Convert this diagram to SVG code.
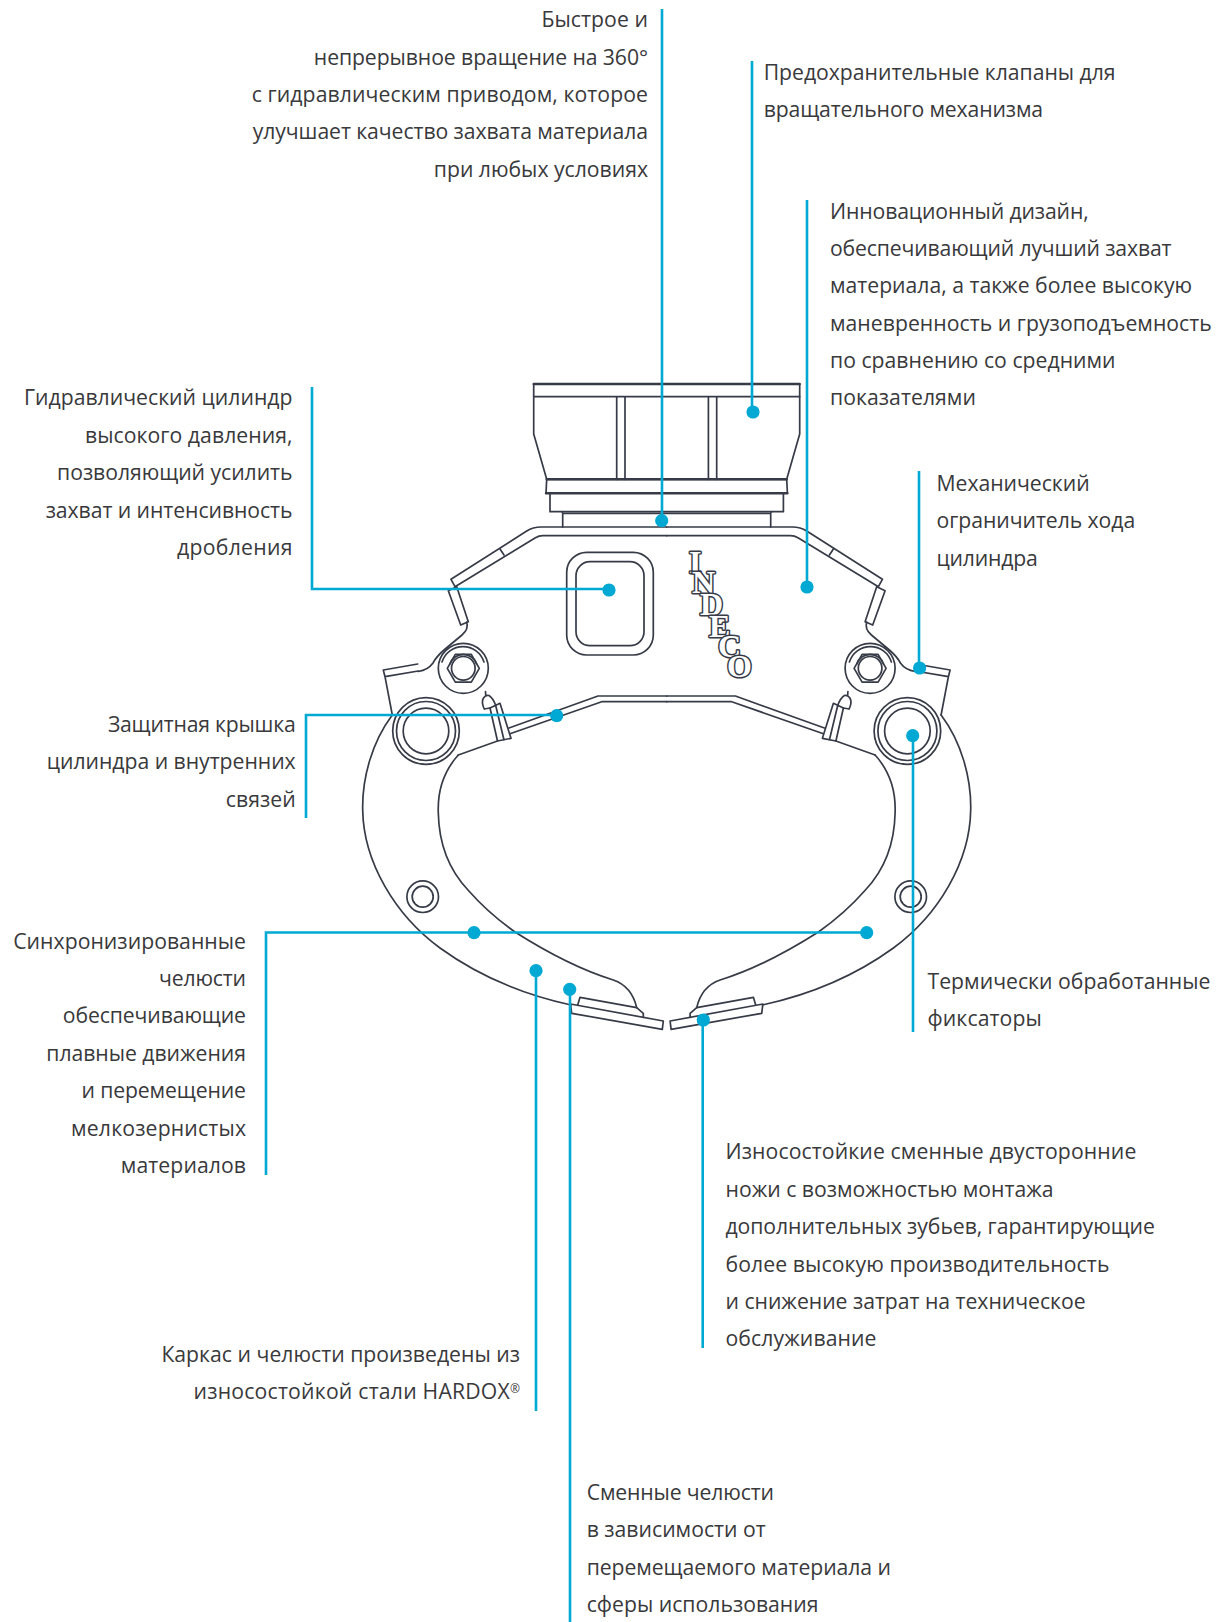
<svg xmlns="http://www.w3.org/2000/svg" xmlns:xlink="http://www.w3.org/1999/xlink" width="1220" height="1622" viewBox="0 0 1220 1622">
<style>
.m{fill:none;stroke:#363b47;stroke-width:1.7;stroke-linejoin:round;stroke-linecap:round}
.h{stroke-width:2.4}
.t{font-family:"Open Sans","Noto Sans",sans-serif;font-size:21.2px;fill:#39393b}
.r{text-anchor:end}
.c{fill:none;stroke:#00a9d4;stroke-width:2.6}
.d{fill:#00a9d4}
.logo{font-family:"Liberation Serif",serif;font-weight:bold;font-size:32px;fill:#fff;stroke:#363b47;stroke-width:3;paint-order:stroke;stroke-linejoin:round}
</style>
<defs>
<g id="half">
<path class="m" d="M666.7,527H541Q533,527 526.7,531L451,579.3L455,586.7L535,538Q539,535.7 543,535.7H666.7"/>
<path class="m" d="M500,549L504,555"/>
<path class="m" d="M448.3,590.7L456.7,586.7L468.3,621.7L460.7,625Z"/>
<path class="m" d="M466.7,622Q469,629 462,635Q450,645 444,650Q436,657 433,663Q428,670 418.3,671.5"/>
<path class="m" d="M417.7,664L383.3,670L385,676.7L418.3,671M385,676.7L392.3,715"/>
<circle class="m" cx="463.3" cy="668.3" r="25"/>
<path class="m" d="M442,662A22,22 0 0 1 484,662"/>
<polygon class="m" points="479.3,668.3 471.3,682.2 455.3,682.2 447.3,668.3 455.3,654.4 471.3,654.4"/>
<path class="m" d="M450,664A14,14 0 0 1 476.6,664"/>
<circle class="m" cx="463.3" cy="668.3" r="11.8"/>
<circle class="m" cx="426" cy="731" r="33.3"/>
<circle class="m" cx="426" cy="731" r="29.5"/>
<circle class="m" cx="426" cy="731" r="22.8"/>
<path class="m" d="M392.3,715C372,742 362,778 362.7,810C363.5,862 395,915 440,948C480,977 525,995 571,1005"/>
<path class="m" d="M458.3,755C443,772 437.5,793 438.3,813C439,848 452,873 468,890C482,906 498,920 515,932C548,953 578,969 613.3,980C628,985 634,996 636.7,1007.7"/>
<polygon class="m" points="570.5,1004 663.3,1021 662.3,1029.3 571.7,1013.3"/>
<path class="m" d="M577.7,1005L580,997.3L636.7,1007.7L643.3,1013.3V1017.3"/>
<circle class="m" cx="422.7" cy="896.7" r="15.8"/>
<circle class="m" cx="422.7" cy="896.7" r="10.5"/>
<path class="m" d="M509,728L598,696H666.7M510.7,733.5L601.7,701.7H666.7"/>
<path class="m" d="M490,708L500,703.3L511,738.3L497.5,741ZM495.7,705.5L504,740"/>
<path class="m" d="M458.3,755L497.5,741"/>
<path class="m" d="M484.3,709L490,708M484.3,709Q481,702 483.5,698Q486,694.5 489,695.5Q493,698 495.7,705.5M485.5,691.5L485.8,696"/>
</g>
</defs>
<rect width="1220" height="1622" fill="#fff"/>
<g id="machine">
<use href="#half"/>
<use href="#half" transform="translate(1333.4,0) scale(-1,1)"/>
<path class="m" d="M533.7,384H799.7V434L786.7,479.3H546.7L533.7,434Z"/>
<path class="m h" d="M533.7,384H799.7M546.7,479.3H786.7M546,493.3H787.4"/>
<path class="m" d="M533.7,396.7H799.7M616.7,396.7V479.3M625,396.7V479.3M708.4,396.7V479.3M716.7,396.7V479.3"/>
<path class="m" d="M546.7,479.3L546,493.3M786.7,479.3L787.4,493.3"/>
<path class="m" d="M550,493.3V511.7H561.7M783.4,493.3V511.7H771.7"/>
<path class="m" d="M561.7,511.7H771.7M564,513.5H769.4M562.7,513V527M770.7,513V527"/>
<rect class="m" x="566.7" y="552.3" width="86.6" height="102.7" rx="20"/>
<rect class="m" x="576" y="561.7" width="68" height="84" rx="14"/>
<text class="logo" x="689 692 700 709 718 727" y="573 593 615 637 657 677">INDECO</text>
</g>
<g id="connectors">
<path class="c" d="M662,9V520"/><circle class="d" cx="661.7" cy="520.7" r="6.6"/>
<path class="c" d="M752,61V412"/><circle class="d" cx="753" cy="412" r="6.6"/>
<path class="c" d="M807,200V587"/><circle class="d" cx="807" cy="587" r="6.6"/>
<path class="c" d="M919,471V668"/><circle class="d" cx="919.6" cy="668" r="6.6"/>
<path class="c" d="M312,387V589H609"/><circle class="d" cx="609" cy="590" r="6.6"/>
<path class="c" d="M306,818V715H557"/><circle class="d" cx="556.7" cy="715.7" r="6.6"/>
<path class="c" d="M266,1175V932.5H867"/><circle class="d" cx="474" cy="932.7" r="6.6"/><circle class="d" cx="866.7" cy="932.7" r="6.6"/>
<path class="c" d="M536,971V1411"/><circle class="d" cx="536" cy="970.7" r="6.6"/>
<path class="c" d="M570,989V1622"/><circle class="d" cx="569.7" cy="989.3" r="6.6"/>
<path class="c" d="M702.7,1020V1348"/><circle class="d" cx="703.3" cy="1020" r="6.6"/>
<path class="c" d="M913,736V1032"/><circle class="d" cx="912.7" cy="735.7" r="6.6"/>
</g>
<g id="label-rotation">
<text class="t r" x="648" y="27" textLength="106.6">Быстрое и</text>
<text class="t r" x="648" y="64.5" textLength="334.2">непрерывное вращение на 360°</text>
<text class="t r" x="648" y="102" textLength="396.3">с гидравлическим приводом, которое</text>
<text class="t r" x="648" y="139" textLength="395.3">улучшает качество захвата материала</text>
<text class="t r" x="648" y="176.8" textLength="214.2">при любых условиях</text>
</g>
<g id="label-valves">
<text class="t" x="763.7" y="79.5" textLength="351.8">Предохранительные клапаны для</text>
<text class="t" x="763.7" y="117" textLength="279.4">вращательного механизма</text>
</g>
<g id="label-design">
<text class="t" x="830" y="219" textLength="258.7">Инновационный дизайн,</text>
<text class="t" x="830" y="255.5" textLength="341.5">обеспечивающий лучший захват</text>
<text class="t" x="830" y="293" textLength="362.2">материала, а также более высокую</text>
<text class="t" x="830" y="330.5" textLength="381.8">маневренность и грузоподъемность</text>
<text class="t" x="830" y="367.5" textLength="285.6">по сравнению со средними</text>
<text class="t" x="830" y="404.5" textLength="145.9">показателями</text>
</g>
<g id="label-cylinder">
<text class="t r" x="292.5" y="405" textLength="268.5">Гидравлический цилиндр</text>
<text class="t r" x="292.5" y="443" textLength="207.5">высокого давления,</text>
<text class="t r" x="292.5" y="480" textLength="235.4">позволяющий усилить</text>
<text class="t r" x="292.5" y="517.5" textLength="246.8">захват и интенсивность</text>
<text class="t r" x="292.5" y="554.5" textLength="115.4">дробления</text>
</g>
<g id="label-stop">
<text class="t" x="936.5" y="490.8" textLength="153.2">Механический</text>
<text class="t" x="936.5" y="527.5" textLength="198.7">ограничитель хода</text>
<text class="t" x="936.5" y="566" textLength="101.4">цилиндра</text>
</g>
<g id="label-cover">
<text class="t r" x="295.7" y="731.5" textLength="187.8">Защитная крышка</text>
<text class="t r" x="295.7" y="769" textLength="248.9">цилиндра и внутренних</text>
<text class="t r" x="295.7" y="807" textLength="69.9">связей</text>
</g>
<g id="label-jaws">
<text class="t r" x="246" y="948.5" textLength="232.8">Синхронизированные</text>
<text class="t r" x="246" y="986" textLength="86.9">челюсти</text>
<text class="t r" x="246" y="1023" textLength="183.2">обеспечивающие</text>
<text class="t r" x="246" y="1060.5" textLength="199.7">плавные движения</text>
<text class="t r" x="246" y="1098" textLength="164.5">и перемещение</text>
<text class="t r" x="246" y="1135.5" textLength="174.9">мелкозернистых</text>
<text class="t r" x="246" y="1172.5" textLength="125.2">материалов</text>
</g>
<g id="label-pins">
<text class="t" x="927.5" y="989" textLength="283">Термически обработанные</text>
<text class="t" x="927.5" y="1026.3" textLength="114.3">фиксаторы</text>
</g>
<g id="label-knives">
<text class="t" x="725.5" y="1159" textLength="410.8">Износостойкие сменные двусторонние</text>
<text class="t" x="725.5" y="1196.7" textLength="328">ножи с возможностью монтажа</text>
<text class="t" x="725.5" y="1233.5" textLength="429.4">дополнительных зубьев, гарантирующие</text>
<text class="t" x="725.5" y="1271.7" textLength="383.9">более высокую производительность</text>
<text class="t" x="725.5" y="1308.7" textLength="360.1">и снижение затрат на техническое</text>
<text class="t" x="725.5" y="1345.5" textLength="151">обслуживание</text>
</g>
<g id="label-hardox">
<text class="t r" x="520" y="1361.5" textLength="358.6">Каркас и челюсти произведены из</text>
<text class="t r" x="520" y="1399" textLength="326.5">износостойкой стали HARDOX<tspan font-size="12" dy="-6">®</tspan></text>
</g>
<g id="label-replaceable">
<text class="t" x="586.7" y="1500" textLength="187.3">Сменные челюсти</text>
<text class="t" x="586.7" y="1537" textLength="179">в зависимости от</text>
<text class="t" x="586.7" y="1574.5" textLength="304.2">перемещаемого материала и</text>
<text class="t" x="586.7" y="1612" textLength="231.8">сферы использования</text>
</g>
</svg>
